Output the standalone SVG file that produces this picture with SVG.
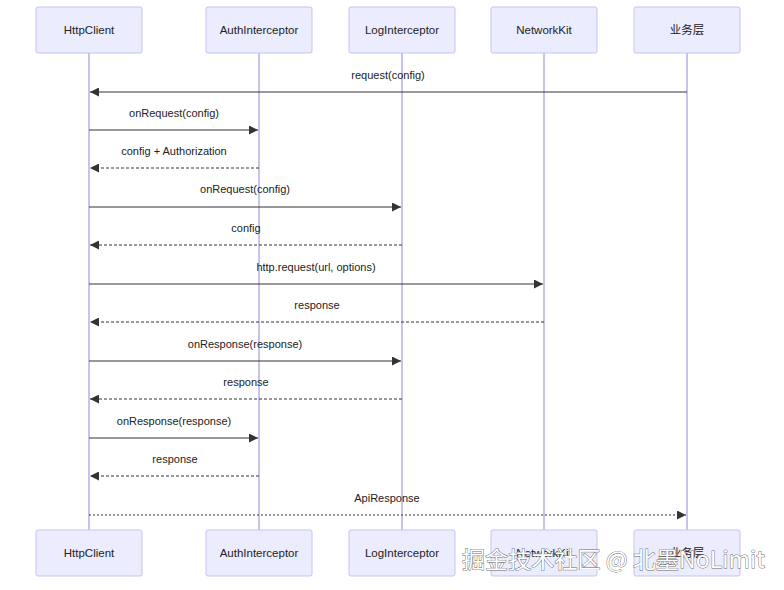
<svg xmlns="http://www.w3.org/2000/svg" width="784" height="590" viewBox="0 0 784 590">
<defs>
<style>
.actor{fill:#ECECFF;stroke:#C7C2F0;stroke-width:1}
.atext{font-family:"Liberation Sans","Noto Sans CJK SC",sans-serif;font-size:11.5px;fill:#222;text-anchor:middle;dominant-baseline:central}
.life{stroke:#9385DD;stroke-width:1}
.msg{stroke:#333;stroke-width:1;fill:none}
.dash{stroke-dasharray:3,2}
.mtext{font-family:"Liberation Sans",sans-serif;font-size:11px;fill:#222;text-anchor:middle;dominant-baseline:central}
.wm{font-family:"Noto Sans CJK SC","Liberation Sans",sans-serif;font-size:23px;fill:#fff;stroke:#6a6a6a;stroke-width:0.9;paint-order:stroke}
</style>
<marker id="ah" viewBox="0 0 10 10" refX="10" refY="5" markerWidth="9" markerHeight="9" markerUnits="userSpaceOnUse" orient="auto">
<path d="M0,0 L10,5 L0,10 z" fill="#333"/>
</marker>
</defs>
<rect width="784" height="590" fill="#fff"/>
<g id="lifelines">
<line class="life" x1="89" y1="53" x2="89" y2="530"/>
<line class="life" x1="259" y1="53" x2="259" y2="530"/>
<line class="life" x1="402" y1="53" x2="402" y2="530"/>
<line class="life" x1="544" y1="53" x2="544" y2="530"/>
<line class="life" x1="687" y1="53" x2="687" y2="530"/>
</g>
<g id="HttpClient">
<rect class="actor" x="36" y="7" width="106" height="46" rx="2"/><text class="atext" x="89" y="30">HttpClient</text>
<rect class="actor" x="36" y="530" width="106" height="46" rx="2"/><text class="atext" x="89" y="553">HttpClient</text>
</g>
<g id="AuthInterceptor">
<rect class="actor" x="206" y="7" width="106" height="46" rx="2"/><text class="atext" x="259" y="30">AuthInterceptor</text>
<rect class="actor" x="206" y="530" width="106" height="46" rx="2"/><text class="atext" x="259" y="553">AuthInterceptor</text>
</g>
<g id="LogInterceptor">
<rect class="actor" x="349" y="7" width="106" height="46" rx="2"/><text class="atext" x="402" y="30">LogInterceptor</text>
<rect class="actor" x="349" y="530" width="106" height="46" rx="2"/><text class="atext" x="402" y="553">LogInterceptor</text>
</g>
<g id="NetworkKit">
<rect class="actor" x="491" y="7" width="106" height="46" rx="2"/><text class="atext" x="544" y="30">NetworkKit</text>
<rect class="actor" x="491" y="530" width="106" height="46" rx="2"/><text class="atext" x="544" y="553">NetworkKit</text>
</g>
<g id="Business">
<rect class="actor" x="634" y="7" width="106" height="46" rx="2"/><text class="atext" x="687" y="30">业务层</text>
<rect class="actor" x="634" y="530" width="106" height="46" rx="2"/><text class="atext" x="687" y="553">业务层</text>
</g>
<g id="connectors">
<line class="msg" x1="687" y1="92" x2="90" y2="92" marker-end="url(#ah)"/>
<text class="mtext" x="388" y="75">request(config)</text>
<line class="msg" x1="89" y1="130" x2="258" y2="130" marker-end="url(#ah)"/>
<text class="mtext" x="174" y="113">onRequest(config)</text>
<line class="msg dash" x1="259" y1="168" x2="90" y2="168" marker-end="url(#ah)"/>
<text class="mtext" x="174" y="151">config + Authorization</text>
<line class="msg" x1="89" y1="207" x2="401" y2="207" marker-end="url(#ah)"/>
<text class="mtext" x="245" y="189">onRequest(config)</text>
<line class="msg dash" x1="402" y1="245" x2="90" y2="245" marker-end="url(#ah)"/>
<text class="mtext" x="246" y="228">config</text>
<line class="msg" x1="89" y1="284" x2="543" y2="284" marker-end="url(#ah)"/>
<text class="mtext" x="316" y="267">http.request(url, options)</text>
<line class="msg dash" x1="544" y1="322" x2="90" y2="322" marker-end="url(#ah)"/>
<text class="mtext" x="317" y="305">response</text>
<line class="msg" x1="89" y1="361" x2="401" y2="361" marker-end="url(#ah)"/>
<text class="mtext" x="245" y="344">onResponse(response)</text>
<line class="msg dash" x1="402" y1="399" x2="90" y2="399" marker-end="url(#ah)"/>
<text class="mtext" x="246" y="382">response</text>
<line class="msg" x1="89" y1="438" x2="258" y2="438" marker-end="url(#ah)"/>
<text class="mtext" x="174" y="421">onResponse(response)</text>
<line class="msg dash" x1="259" y1="476" x2="90" y2="476" marker-end="url(#ah)"/>
<text class="mtext" x="175" y="459">response</text>
<line class="msg" x1="89" y1="515" x2="686" y2="515" stroke-dasharray="2,2" marker-end="url(#ah)"/>
<text class="mtext" x="387" y="498">ApiResponse</text>
</g>
<text class="wm" x="462" y="568" textLength="303" lengthAdjust="spacingAndGlyphs">掘金技术社区 @ 北墨NoLimit</text>
</svg>
